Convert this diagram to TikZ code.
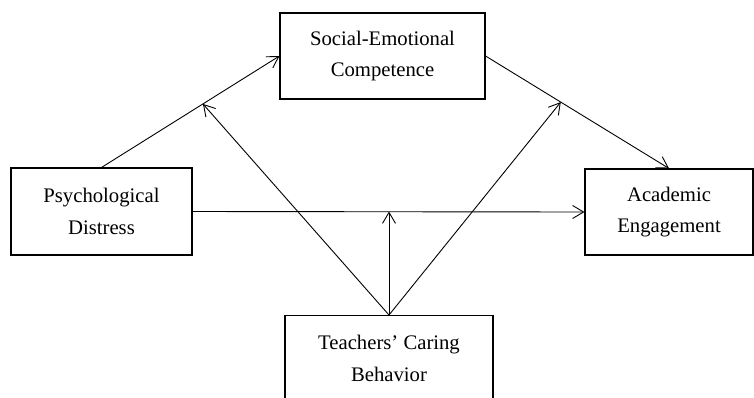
\documentclass[tikz,border=0pt]{standalone}
\usepackage{fontspec}
\setmainfont{Liberation Serif}
\usetikzlibrary{arrows.meta, calc}

\begin{document}
\begin{tikzpicture}[x=1pt, y=-1pt,
	box/.style={draw, line width=1.1pt, align=center, inner sep=0pt,
		font=\fontsize{20.7}{31.5}\selectfont},
	link/.style={line width=0.9pt, -{Straight Barb[length=11pt, width=13pt, line width=0.9pt]}}]
	\useasboundingbox (0,0) rectangle (754,397);

	\node [box, minimum width=205pt, minimum height=86pt] (SEC) at (382.5,56) {Social-Emotional\\Competence};
	\node [box, minimum width=181pt, minimum height=87pt] (PD) at (101.5,211.5) {Psychological\\Distress};
	\node [box, minimum width=168pt, minimum height=86pt] (AE) at (669,212) {Academic\\Engagement};
	\node [box, minimum width=208pt, minimum height=86pt, anchor=north] (TCB) at (389,315) {Teachers’ Caring\\Behavior};

	% paths
	\draw [link] (PD.north) -- (SEC.west);
	\draw [link] (SEC.east) -- (AE.north);
	\draw [link] (PD.east) -- (AE.west);

	% moderation
	\coordinate (M1) at ($(PD.north)!0.57!(SEC.west)$);
	\coordinate (M2) at ($(SEC.east)!0.41!(AE.north)$);
	\coordinate (M3) at (TCB.north |- PD.east);
	\draw [link] (TCB.north) -- (M1);
	\draw [link] (TCB.north) -- (M2);
	\draw [link] (TCB.north) -- (M3);

\end{tikzpicture}
\end{document}
